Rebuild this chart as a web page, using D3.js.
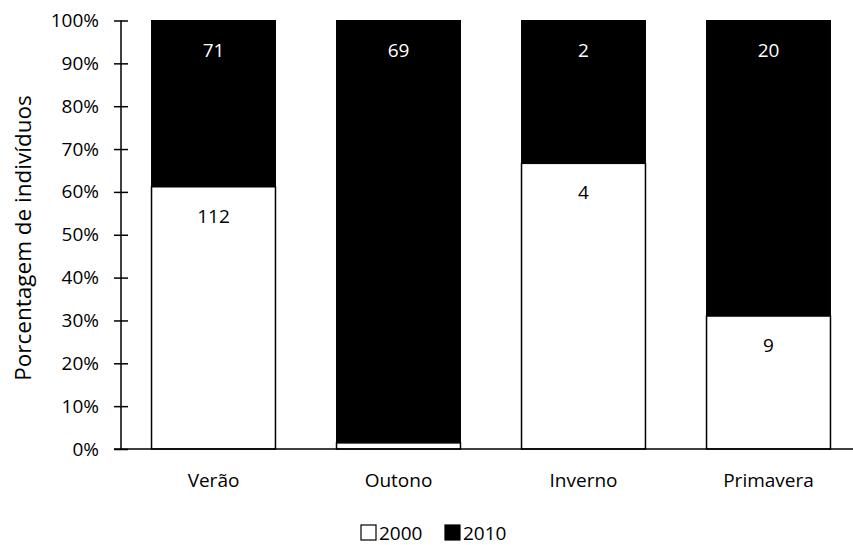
<!DOCTYPE html>
<html><head><meta charset="utf-8">
<script src="https://cdn.jsdelivr.net/npm/d3@7"></script>
<style>body{margin:0;background:#fff}svg{display:block}text{font-family:"Open Sans",sans-serif;fill:#000}</style>
</head><body>
<script>
const categories = ["Verão","Outono","Inverno","Primavera"];
const series = ["2000","2010"];
const values2000 = [112, 1, 4, 9];
const values2010 = [71, 69, 2, 20];
const showLabel2000 = [true, false, true, true];
const yTicks = [0,0.1,0.2,0.3,0.4,0.5,0.6,0.7,0.8,0.9,1];

const W=853,H=545,FS=19;
const svg=d3.select("body").append("svg").attr("width",W).attr("height",H);
const x=d3.scaleBand().domain(categories).range([121,861]).paddingInner(0.33).paddingOuter(0.165);
const y=d3.scaleLinear().domain([0,1]).range([449,20.5]);

const data=categories.map((c,i)=>({c,a:values2000[i],b:values2010[i],t:values2000[i]+values2010[i],show:showLabel2000[i]}));

const g=svg.append("g");
data.forEach(d=>{
  const fa=d.a/d.t;
  g.append("rect").attr("x",x(d.c)).attr("width",x.bandwidth()).attr("y",y(1)).attr("height",y(fa)-y(1))
    .attr("fill","#000").attr("stroke","#000").attr("stroke-width",1);
  g.append("rect").attr("x",x(d.c)).attr("width",x.bandwidth()).attr("y",y(fa)).attr("height",y(0)-y(fa))
    .attr("fill","#fff").attr("stroke","#000").attr("stroke-width",1.5);
  g.append("text").attr("x",x(d.c)+x.bandwidth()/2).attr("y",y(1)+36).attr("text-anchor","middle")
    .attr("font-size",FS).style("fill","#fff").text(d.b);
  if(d.show) g.append("text").attr("x",x(d.c)+x.bandwidth()/2).attr("y",y(fa)+36).attr("text-anchor","middle")
    .attr("font-size",FS).text(d.a);
});

const ya=svg.append("g").attr("transform","translate(121,0)")
  .call(d3.axisLeft(y).tickValues(yTicks).tickFormat(d3.format(".0%")).tickSize(7).tickPadding(15));
ya.select(".domain").attr("stroke","#000").attr("stroke-width",1.5).attr("d","M0,"+y(1)+"V"+y(0));
ya.selectAll(".tick line").attr("x1",-7).attr("x2",7).attr("stroke-width",1.5);
ya.selectAll("text").attr("font-size",FS).attr("font-family","'Open Sans',sans-serif");

svg.append("line").attr("x1",114).attr("x2",853).attr("y1",y(0)).attr("y2",y(0)).attr("stroke","#000").attr("stroke-width",1.5);
svg.append("g").selectAll("text").data(categories).join("text")
  .attr("x",d=>x(d)+x.bandwidth()/2).attr("y",487).attr("text-anchor","middle").attr("font-size",FS).text(d=>d);

svg.append("text").attr("transform","translate(31,238) rotate(-90)").attr("text-anchor","middle")
  .attr("font-size",22.5).text("Porcentagem de indivíduos");

const lg=svg.append("g");
const leg=[{s:"2000",x:361,f:"#fff"},{s:"2010",x:445,f:"#000"}];
leg.forEach(l=>{
  lg.append("rect").attr("x",l.x).attr("y",525).attr("width",15).attr("height",15).attr("fill",l.f).attr("stroke","#000").attr("stroke-width",1.2);
  lg.append("text").attr("x",l.x+18).attr("y",540).attr("font-size",FS).text(l.s);
});
</script>
</body></html>
